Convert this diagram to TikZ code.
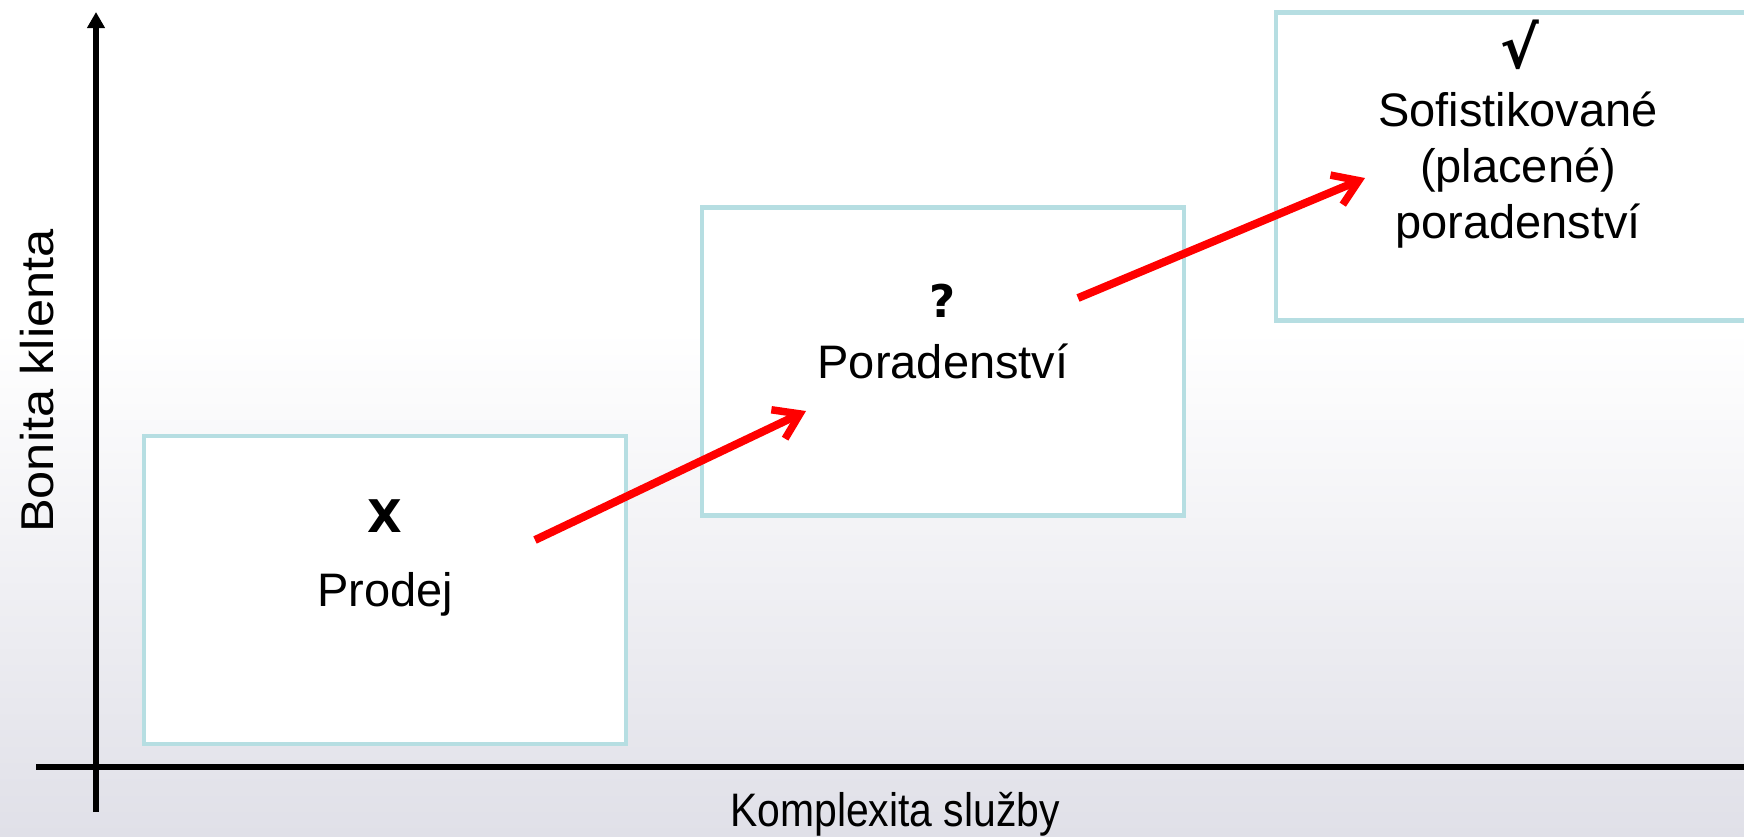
\documentclass[tikz,border=0pt]{standalone}
\usepackage{fontspec}
\setmainfont{Liberation Sans}
\newfontfamily\symfont{DejaVu Sans Bold}
\usetikzlibrary{arrows.meta}
\definecolor{boxline}{HTML}{B6DEE2}
\definecolor{bgg}{HTML}{E0E0E8}
\definecolor{arrred}{HTML}{FF0000}
\tikzset{
  stagebox/.style={draw=boxline, line width=4.5pt, fill=white, minimum width=482pt, minimum height=308pt, inner sep=0pt},
  lbl/.style={font=\fontsize{47}{56}\selectfont, inner sep=0pt, anchor=base},
  sym/.style={font=\symfont\fontsize{45}{50}\selectfont, inner sep=0pt, anchor=base},
  axis/.style={line width=6pt, black},
  redarrow/.style={line width=8pt, arrred, -{Straight Barb[length=24pt,width=32pt,line width=7.5pt]}}
}
\begin{document}
\begin{tikzpicture}[x=1pt,y=-1pt]
\useasboundingbox (0,0) rectangle (1744,836);
\clip (0,0) rectangle (1744,836);
\fill[white] (0,0) rectangle (1744,836);
\shade[top color=white, bottom color=bgg] (0,330) rectangle (1744,836);

% boxes
\node[stagebox] (b1) at (385,590) {};
\node[stagebox] (b2) at (943,361.5) {};
\node[stagebox] (b3) at (1517,166.5) {};

% axes
\coordinate (yb) at (96,812);
\coordinate (yt) at (96,12);
\coordinate (xl) at (36,767);
\coordinate (xr) at (1760,767);
\draw[axis, -{Triangle[length=16pt,width=17pt]}] (yb) -- (yt);
\draw[axis] (xl) -- (xr);

% texts
\node[sym] (s1) at (385,532) {X};
\node[lbl] (t1) at (385,606) {Prodej};
\node[sym] (s2) at (943,317) {?};
\node[lbl] (t2) at (943,378) {Poradenství};
\node[sym, font=\symfont\fontsize{58}{60}\selectfont] (s3) at (1520,68) {√};
\node[lbl, align=center] (t3) at (1518,238) {Sofistikované\\(placené)\\poradenství};

\node[lbl, rotate=90] (yl) at (53,381) {\scalebox{1.1}[1]{\fontsize{46}{56}\selectfont Bonita klienta}};
\node[lbl] (xlab) at (895,826) {\scalebox{0.87}[1]{\fontsize{47}{56}\selectfont Komplexita služby}};

% red arrows
\coordinate (a1s) at (535,540);
\coordinate (a1e) at (806,411);
\coordinate (a2s) at (1078,298);
\coordinate (a2e) at (1365,178);
\draw[redarrow] (a1s) -- (a1e);
\draw[redarrow] (a2s) -- (a2e);
\end{tikzpicture}
\end{document}
